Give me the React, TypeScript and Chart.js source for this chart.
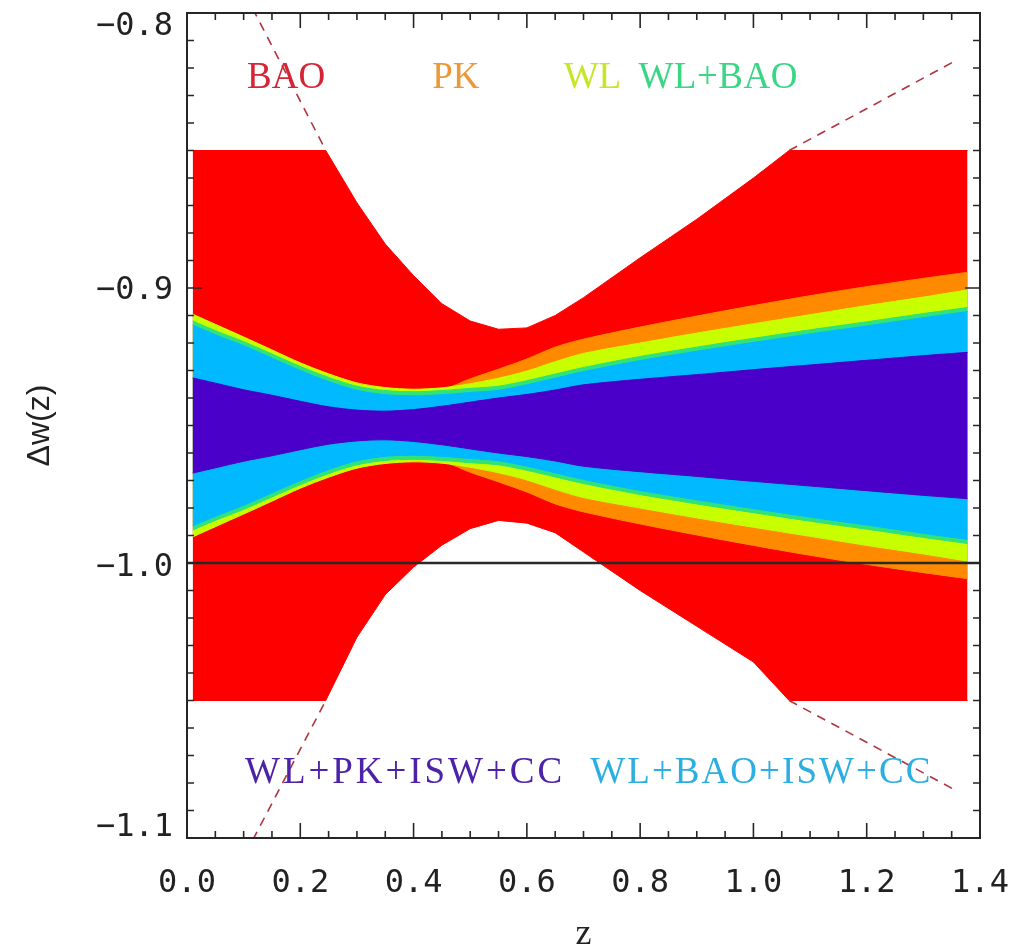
import React, { useEffect, useRef } from 'react';
import { Chart, registerables } from 'chart.js';

Chart.register(...registerables);

// ---------------- DATA ----------------
const fiducialW = -0.95;
const referenceW = -1.0;

const xTickValues = [0, 0.2, 0.4, 0.6, 0.8, 1.0, 1.2, 1.4];
const yTickValues = [-1.1, -1.0, -0.9, -0.8];
const xMinorStep = 0.05;
const yMinorStep = 0.01;

// redshift grid of the forecast bands
const zGrid = [0.01, 0.05, 0.1, 0.15, 0.2, 0.25, 0.3, 0.35, 0.4, 0.45, 0.5, 0.55, 0.6, 0.65, 0.7, 0.8, 0.9, 1.0, 1.1, 1.2, 1.3, 1.378];

// half widths of each band around the fiducial w
const pkHalfWidth = [0.0395, 0.0358, 0.0312, 0.0265, 0.0218, 0.0178, 0.0145, 0.0128, 0.0122, 0.0130, 0.0170, 0.0205, 0.0242, 0.0285, 0.0314, 0.0358, 0.0398, 0.0436, 0.0472, 0.0505, 0.0535, 0.0557];
const wlHalfWidth = [0.0405, 0.0368, 0.0322, 0.0275, 0.0228, 0.0188, 0.0155, 0.0138, 0.0132, 0.0137, 0.0152, 0.0172, 0.0198, 0.0232, 0.0262, 0.0300, 0.0336, 0.0370, 0.0403, 0.0436, 0.0467, 0.0493];
const wlBaoHalfWidth = [0.0380, 0.0345, 0.0305, 0.0260, 0.0215, 0.0175, 0.0143, 0.0127, 0.0123, 0.0127, 0.0135, 0.0143, 0.0163, 0.0187, 0.0211, 0.0251, 0.0285, 0.0317, 0.0348, 0.0377, 0.0407, 0.0429];
const wlBaoIswCcHalfWidth = [0.0365, 0.0330, 0.0290, 0.0245, 0.0200, 0.0160, 0.0128, 0.0112, 0.0108, 0.0112, 0.0120, 0.0128, 0.0148, 0.0172, 0.0196, 0.0236, 0.0270, 0.0302, 0.0333, 0.0362, 0.0392, 0.0414];
const wlPkIswCcHalfWidth = [0.0173, 0.0154, 0.0130, 0.0110, 0.0088, 0.0068, 0.0056, 0.0052, 0.0058, 0.0070, 0.0085, 0.0100, 0.0113, 0.0129, 0.0148, 0.0168, 0.0185, 0.0203, 0.0220, 0.0237, 0.0254, 0.0266];

// BAO band (clipped to -0.85 / -1.05)
const baoZ = [0.01, 0.245, 0.3, 0.35, 0.4, 0.45, 0.5, 0.55, 0.6, 0.65, 0.7, 0.8, 0.9, 1.0, 1.063, 1.378];
const baoUpper = [-0.85, -0.85, -0.869, -0.884, -0.8955, -0.9057, -0.912, -0.915, -0.9145, -0.910, -0.9035, -0.889, -0.875, -0.860, -0.85, -0.85];
const baoLower = [-1.05, -1.05, -1.027, -1.0115, -1.0015, -0.9935, -0.9875, -0.9845, -0.9855, -0.989, -0.996, -1.010, -1.023, -1.036, -1.05, -1.05];

// unclipped BAO continuation (dashed)
const baoDashLeftZ = [0.09, 0.245];
const baoDashLeftUpper = [-0.788, -0.85];
const baoDashLeftLower = [-1.111, -1.05];
const baoDashRightZ = [1.063, 1.36];
const baoDashRightUpper = [-0.85, -0.817];
const baoDashRightLower = [-1.05, -1.083];

const refLineZ = [0, 1.4];

const bandLabels = ['BAO', 'PK', 'WL', 'WL+BAO', 'WL+PK+ISW+CC', 'WL+BAO+ISW+CC'];

// ---------------- STYLE ----------------
const COLORS = {
  bao: '#ff0000',
  pk: '#ff8a00',
  wl: '#c8ff00',
  wlBao: '#2fe27a',
  wlBaoIswCc: '#00b9ff',
  wlPkIswCc: '#4a00c8',
};

const LABEL_COLORS = ['rgb(214,36,52)', 'rgb(236,152,54)', 'rgb(198,230,40)', 'rgb(58,214,132)', 'rgb(76,34,168)', 'rgb(44,174,224)'];
// anchor (data coords of the label's left / vertical centre) and target width in px
const LABEL_LAYOUT = [
  { z: 0.106, w: -0.8229, width: 75 },
  { z: 0.433, w: -0.8229, width: 0 },
  { z: 0.665, w: -0.8229, width: 0 },
  { z: 0.797, w: -0.8229, width: 159 },
  { z: 0.1025, w: -1.0756, width: 317 },
  { z: 0.712, w: -1.0756, width: 340 },
];
const Y_LABEL_SHIFT = [-10, 5, 3, 14];

const TICK_FONT = '32px "DejaVu Sans Mono"';

const pts = (xs: number[], ys: number[]) => xs.map((x, i) => ({ x, y: ys[i] }));

const idlAxesPlugin = {
  id: 'idlAxes',
  afterDatasetsDraw(chart: any) {
    const { ctx, chartArea, scales } = chart;
    const { left, right, top, bottom } = chartArea;
    const xs = scales.x;
    const ys = scales.y;
    ctx.save();
    // band labels
    ctx.font = '37px "Liberation Serif"';
    ctx.textBaseline = 'alphabetic';
    ctx.textAlign = 'left';
    bandLabels.forEach((t, i) => {
      const L = LABEL_LAYOUT[i];
      const px = xs.getPixelForValue(L.z);
      const py = ys.getPixelForValue(L.w);
      try { (ctx as any).letterSpacing = '0px'; } catch (e) {}
      const nat = ctx.measureText(t).width;
      let ls = t.length > 1 && L.width > 0 ? (L.width - nat) / (t.length - 1) : 0;
      if (ls < 0) ls = 0;
      try { (ctx as any).letterSpacing = ls.toFixed(2) + 'px'; } catch (e) {}
      ctx.fillStyle = LABEL_COLORS[i];
      ctx.fillText(t, px, py + 12);
    });
    try { (ctx as any).letterSpacing = '0px'; } catch (e) {}

    // frame
    ctx.strokeStyle = '#262626';
    ctx.lineWidth = 2;
    ctx.strokeRect(left, top, right - left, bottom - top);
    // inward ticks
    ctx.lineWidth = 1.6;
    ctx.beginPath();
    const nx = Math.round((xs.max - xs.min) / xMinorStep);
    for (let i = 0; i <= nx; i++) {
      const px = xs.getPixelForValue(xs.min + i * xMinorStep);
      const len = i % 4 === 0 ? 15 : 7;
      ctx.moveTo(px, bottom); ctx.lineTo(px, bottom - len);
      ctx.moveTo(px, top); ctx.lineTo(px, top + len);
    }
    const ny = Math.round((ys.max - ys.min) / yMinorStep);
    for (let i = 0; i <= ny; i++) {
      const py = ys.getPixelForValue(ys.min + i * yMinorStep);
      const len = i % 10 === 0 ? 15 : 7;
      ctx.moveTo(left, py); ctx.lineTo(left + len, py);
      ctx.moveTo(right, py); ctx.lineTo(right - len, py);
    }
    ctx.stroke();

    // y tick labels
    ctx.font = TICK_FONT;
    ctx.fillStyle = '#222';
    ctx.textAlign = 'right';
    ctx.textBaseline = 'middle';
    yTickValues.forEach((v, i) => {
      const py = ys.getPixelForValue(v) + Y_LABEL_SHIFT[i];
      ctx.fillText('\u2212' + Math.abs(v).toFixed(1), left - 14, py);
    });
    ctx.restore();
  },
};

export default function App() {
  const ref = useRef<HTMLCanvasElement>(null);

  useEffect(() => {
    const canvas = ref.current;
    if (!canvas) return;

    const datasets: any[] = [];
    const addBand = (up: any[], lo: any[], color: string, order: number, tension: number) => {
      const idx = datasets.length;
      datasets.push({ data: up, borderColor: color, backgroundColor: color, borderWidth: 1, pointRadius: 0, fill: { target: idx + 1 }, tension, order });
      datasets.push({ data: lo, borderColor: color, backgroundColor: color, borderWidth: 1, pointRadius: 0, fill: false, tension, order });
    };
    const sym = (hw: number[], sign: number) => zGrid.map((z, i) => ({ x: z, y: fiducialW + sign * hw[i] }));

    // reference line and dashed continuation on top
    datasets.push({ data: pts(refLineZ, [referenceW, referenceW]), borderColor: '#2a2a2a', borderWidth: 2.5, pointRadius: 0, fill: false, order: 0 });
    const dash = { borderColor: 'rgb(176,52,64)', borderWidth: 1.6, borderDash: [9, 7], pointRadius: 0, fill: false, order: 1 };
    datasets.push({ ...dash, data: pts(baoDashLeftZ, baoDashLeftUpper) });
    datasets.push({ ...dash, data: pts(baoDashLeftZ, baoDashLeftLower) });
    datasets.push({ ...dash, data: pts(baoDashRightZ, baoDashRightUpper) });
    datasets.push({ ...dash, data: pts(baoDashRightZ, baoDashRightLower) });

    addBand(sym(wlPkIswCcHalfWidth, 1), sym(wlPkIswCcHalfWidth, -1), COLORS.wlPkIswCc, 2, 0.3);
    addBand(sym(wlBaoIswCcHalfWidth, 1), sym(wlBaoIswCcHalfWidth, -1), COLORS.wlBaoIswCc, 3, 0.3);
    addBand(sym(wlBaoHalfWidth, 1), sym(wlBaoHalfWidth, -1), COLORS.wlBao, 4, 0.3);
    addBand(sym(wlHalfWidth, 1), sym(wlHalfWidth, -1), COLORS.wl, 5, 0.3);
    addBand(sym(pkHalfWidth, 1), sym(pkHalfWidth, -1), COLORS.pk, 6, 0.3);
    addBand(pts(baoZ, baoUpper), pts(baoZ, baoLower), COLORS.bao, 7, 0);

    const chart = new Chart(canvas, {
      type: 'line',
      data: { datasets },
      options: {
        animation: false,
        responsive: false,
        maintainAspectRatio: false,
        events: [],
        layout: { padding: { top: 13, right: 32, left: 0, bottom: 0 }, autoPadding: false } as any,
        plugins: {
          legend: { display: false },
          tooltip: { enabled: false },
          filler: { propagate: false, drawTime: 'beforeDatasetDraw' } as any,
        },
        scales: {
          x: {
            type: 'linear',
            min: 0,
            max: 1.4,
            afterFit: (s: any) => { s.height = 109; s.paddingLeft = 0; s.paddingRight = 0; },
            afterBuildTicks: (s: any) => { s.ticks = xTickValues.map((v) => ({ value: v })); },
            ticks: {
              callback: (v: any) => Number(v).toFixed(1),
              font: { family: '"DejaVu Sans Mono"', size: 32 },
              color: '#222',
              padding: 26,
              maxRotation: 0,
              autoSkip: false,
            },
            grid: { display: false, drawTicks: false },
            border: { display: false },
            title: {
              display: true,
              text: 'z',
              font: { family: '"Liberation Serif"', size: 36, lineHeight: 0.8 },
              color: '#222',
              padding: { top: 0, bottom: -2 },
            },
          },
          y: {
            type: 'linear',
            min: -1.1,
            max: -0.8,
            afterFit: (s: any) => { s.width = 187; s.paddingTop = 0; s.paddingBottom = 0; },
            afterBuildTicks: (s: any) => { s.ticks = yTickValues.map((v) => ({ value: v })); },
            ticks: { display: false },
            grid: { display: false, drawTicks: false },
            border: { display: false },
            title: {
              display: true,
              text: '\u0394w(z)',
              font: { family: '"Liberation Sans"', size: 32, lineHeight: 1.2 },
              color: '#222',
              padding: { top: 21, bottom: 0 },
            },
          },
        },
      } as any,
      plugins: [idlAxesPlugin],
    });

    return () => chart.destroy();
  }, []);

  return (
    <div style={{ position: 'fixed', left: 0, top: 0, width: 1012, height: 947, background: '#fff' }}>
      <canvas ref={ref} width={1012} height={947} style={{ display: 'block' }} />
    </div>
  );
}
